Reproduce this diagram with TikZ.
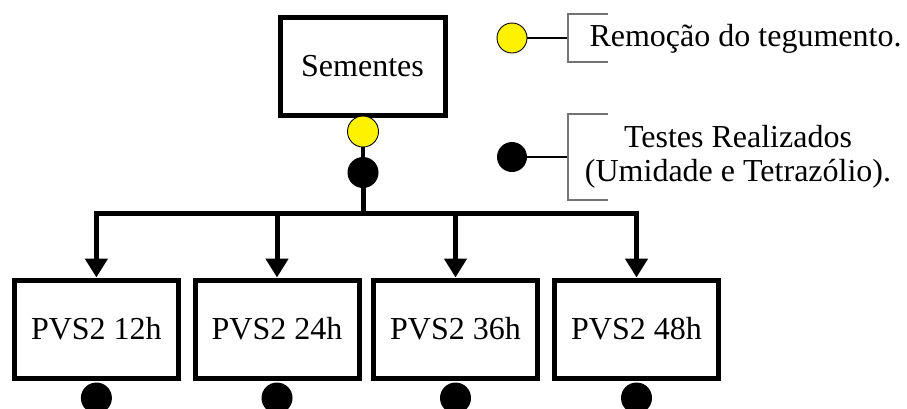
\documentclass[tikz,border=0pt]{standalone}
\usepackage{fontspec}
\setmainfont{Liberation Serif}
\usetikzlibrary{arrows.meta}

\begin{document}
\begin{tikzpicture}[x=1pt,y=-1pt,
  txt/.style={font=\fontsize{32}{34}\selectfont},
  stagebox/.style={draw,line width=5pt,rectangle,minimum width=164pt,minimum height=98pt,
    inner sep=0pt,txt},
  dotyellow/.style={circle,draw,line width=0.9pt,fill=yellow,minimum size=31pt,inner sep=0pt},
  dotblack/.style={circle,fill=black,minimum size=31pt,inner sep=0pt},
  trunk/.style={line width=5pt},
  branch/.style={line width=5pt,-{Triangle[width=22pt,length=19pt]}},
  thinlink/.style={line width=3.8pt},
  legendlink/.style={line width=1.3pt},
  bracket/.style={line width=1.2pt,draw=black!55}
]
\useasboundingbox (0,0) rectangle (907,408);

% seed box and its markers
\node[stagebox,minimum width=165pt] (sem) at (362.5,66) {Sementes};
\node[dotyellow] (y0) at (363,131.5) {};
\node[dotblack] (k0) at (363,172.5) {};
\coordinate (split) at (363,213);

% treatment boxes
\node[stagebox] (p1) at (96.4,329) {PVS2 12h};
\node[stagebox] (p2) at (277,329) {PVS2 24h};
\node[stagebox] (p3) at (455.5,329) {PVS2 36h};
\node[stagebox] (p4) at (636.5,329) {PVS2 48h};

% test markers below each box
\node[dotblack] (k1) at (96.4,398) {};
\node[dotblack] (k2) at (277,398) {};
\node[dotblack] (k3) at (455.5,398) {};
\node[dotblack] (k4) at (636.5,398) {};

% connectors
\draw[thinlink] (y0) -- (k0);
\draw[trunk] (k0.center) -- (split);
\draw[branch] (split) -| (p1.north);
\draw[branch] (split) -| (p2.north);
\draw[branch] (split) -| (p3.north);
\draw[branch] (split) -| (p4.north);

% legend
\node[dotyellow,minimum size=30pt] (ly) at (512,38) {};
\coordinate (lyb) at (568,38);
\draw[legendlink] (ly) -- (lyb);
\draw[bracket] (608,14) -- (568,14) -- (568,62) -- (608,62);
\node[txt,anchor=base,inner sep=0pt] (lyt) at (745.5,46.7) {Remoção do tegumento.};

\node[dotblack,minimum size=30pt] (lk) at (512,157) {};
\coordinate (lkb) at (568,157);
\draw[legendlink] (lk) -- (lkb);
\draw[bracket] (608,114) -- (568,114) -- (568,200) -- (608,200);
\node[txt,align=center,inner sep=0pt] (lkt) at (738,156.5) {Testes Realizados\\(Umidade e Tetrazólio).};
\end{tikzpicture}
\end{document}
